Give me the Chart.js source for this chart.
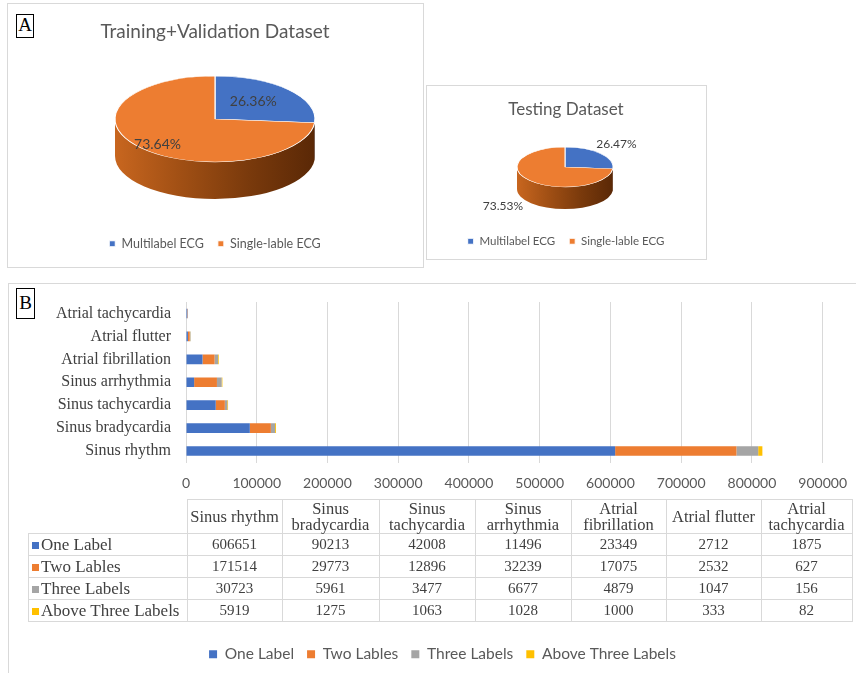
<!DOCTYPE html>
<html>
<head>
<meta charset="utf-8">
<script src="https://cdn.jsdelivr.net/npm/chart.js@4.4.1/dist/chart.umd.min.js"></script>
<style>
  body { margin: 0; background: #fff; width: 856px; height: 673px; position: relative; overflow: hidden; font-family: Lato, sans-serif; }
  .frame { position: absolute; border: 1px solid #d9d9d9; box-sizing: border-box; }
  .tag { position: absolute; border: 1.5px solid #000; box-sizing: border-box; font-family: "Liberation Serif", serif; font-size: 19px; line-height: 20px; text-align: center; color: #000; }
  canvas { position: absolute; }
  #dataTable { position: absolute; left: 28px; top: 499px; border-collapse: collapse; font-family: "Liberation Serif", serif; font-size: 15px; color: #404040; }
  #dataTable td, #dataTable th { border: 1.5px solid #d9d9d9; text-align: center; font-weight: normal; padding: 0; }
  #dataTable th { height: 33px; line-height: 16px; font-size: 16.5px; }
  #dataTable td { height: 21px; }
  #dataTable th.blank { border: none; }
  #dataTable td.lab { text-align: left; padding-left: 3px; white-space: nowrap; font-size: 17px; }
  .sw { display: inline-block; width: 7px; height: 7px; margin-right: 2px; vertical-align: 1px; }
</style>
</head>
<body>
<div class="frame" style="left:7px;top:3px;width:417px;height:265px;"></div>
<div class="frame" style="left:426px;top:85px;width:281px;height:175px;"></div>
<div class="frame" style="left:8px;top:283px;width:860px;height:400px;"></div>
<div class="tag" style="left:16px;top:14px;width:18px;height:24px;">A</div>
<div class="tag" style="left:16px;top:288px;width:19px;height:31px;line-height:28px;">B</div>

<canvas id="trainChart" width="414" height="262" style="left:8px;top:4px;"></canvas>
<canvas id="testChart" width="278" height="172" style="left:427px;top:86px;"></canvas>
<canvas id="barChart" width="851" height="389" style="left:9px;top:284px;"></canvas>
<table id="dataTable"></table>

<script>
// Pie data
const pieLabels = ['Multilabel ECG', 'Single-lable ECG'];
const trainPercent = [26.36, 73.64];
const testPercent = [26.47, 73.53];

// Bar data
const rhythms = ['Sinus rhythm', 'Sinus bradycardia', 'Sinus tachycardia', 'Sinus arrhythmia', 'Atrial fibrillation', 'Atrial flutter', 'Atrial tachycardia'];
const seriesNames = ['One Label', 'Two Lables', 'Three Labels', 'Above Three Labels'];
const oneLabel = [606651, 90213, 42008, 11496, 23349, 2712, 1875];
const twoLabels = [171514, 29773, 12896, 32239, 17075, 2532, 627];
const threeLabels = [30723, 5961, 3477, 6677, 4879, 1047, 156];
const aboveThree = [5919, 1275, 1063, 1028, 1000, 333, 82];
const xTicks = [0, 100000, 200000, 300000, 400000, 500000, 600000, 700000, 800000, 900000];

const blue = '#4472C4', orange = '#ED7D31', grey = '#A5A5A5', gold = '#FFC000';

// 3D pie: squash the top face into an ellipse and draw the side wall
const pie3d = {
    id: 'pie3d',
    beforeDatasetsDraw(chart, args, o) {
        const ctx = chart.ctx;
        const meta = chart.getDatasetMeta(0);
        const a0 = meta.data[0];
        const r = a0.outerRadius;
        meta.data.forEach((arc, i) => {
            const s = Math.max(arc.startAngle, 0), e = Math.min(arc.endAngle, Math.PI);
            if (e <= s) return;
            const g = ctx.createLinearGradient(o.cx - o.rx, 0, o.cx + o.rx, 0);
            o.side[i].forEach((c, k) => g.addColorStop(k / (o.side[i].length - 1), c));
            ctx.fillStyle = g;
            ctx.beginPath();
            ctx.ellipse(o.cx, o.cy, o.rx, o.ry, 0, s, e);
            ctx.ellipse(o.cx, o.cy + o.depth, o.rx, o.ry, 0, e, s, true);
            ctx.closePath();
            ctx.fill();
        });
        ctx.save();
        ctx.translate(o.cx, o.cy);
        ctx.scale(o.rx / r, o.ry / r);
        ctx.translate(-a0.x, -a0.y);
    },
    afterDatasetsDraw(chart, args, o) {
        const ctx = chart.ctx;
        ctx.restore();
        const meta = chart.getDatasetMeta(0);
        const vals = chart.data.datasets[0].data;
        ctx.save();
        ctx.font = o.labelFont;
        ctx.fillStyle = '#404040';
        ctx.textAlign = 'center';
        ctx.textBaseline = 'middle';
        meta.data.forEach((arc, i) => {
            const m = (arc.startAngle + arc.endAngle) / 2;
            const [fx, fy, dy] = o.labelPos[i];
            const x = o.cx + fx * o.rx * Math.cos(m);
            const y = o.cy + fy * o.ry * Math.sin(m) + dy;
            ctx.fillText(vals[i].toFixed(2) + '%', x, y);
        });
        ctx.restore();
    }
};

// nudge the bar legend sideways (it sits under the table, centred a bit right)
const legendShift = {
    id: 'legendShift',
    afterLayout(chart, args, o) {
        chart.legend.left += o.dx;
        chart.legend.right += o.dx;
    }
};

const orangeSide = ['#c8661f', '#a04f14', '#7a3a0c', '#5a2806'];
const blueSide = ['#3a62a8', '#2a4a82'];

const makePie = (el, title, values, p) => new Chart(document.getElementById(el), {
    type: 'pie',
    data: {
        labels: pieLabels,
        datasets: [{
            data: values,
            backgroundColor: [blue, orange],
            borderColor: '#ffffff',
            borderWidth: 1
        }]
    },
    plugins: [pie3d],
    options: {
        responsive: false,
        animation: false,
        events: [],
        layout: { padding: { bottom: p.padBottom } },
        plugins: {
            title: {
                display: true,
                text: title,
                color: '#595959',
                font: { family: 'Lato', size: p.titleSize, weight: 'normal' },
                padding: { top: p.titleTop, bottom: 6 }
            },
            legend: {
                position: 'bottom',
                labels: {
                    color: '#595959',
                    font: { family: 'Lato', size: p.legendSize },
                    boxWidth: 6,
                    boxHeight: 6,
                    padding: 14
                }
            },
            tooltip: { enabled: false },
            pie3d: {
                cx: p.cx, cy: p.cy, rx: p.rx, ry: p.ry, depth: p.depth,
                side: [blueSide, orangeSide],
                labelPos: p.labelPos,
                labelFont: p.labelFont
            }
        }
    }
});

makePie('trainChart', 'Training+Validation Dataset', trainPercent, {
    cx: 207, cy: 115, rx: 100, ry: 43, depth: 37,
    titleSize: 19, titleTop: 16, legendSize: 12.5, padBottom: 6,
    labelPos: [[0.52, 0.6, 0], [0.78, 0.9, -1]],
    labelFont: '14px Lato'
});

makePie('testChart', 'Testing Dataset', testPercent, {
    cx: 138, cy: 81, rx: 48, ry: 20, depth: 22,
    titleSize: 17, titleTop: 13, legendSize: 11.5, padBottom: 1,
    labelPos: [[1.45, 1.5, -3], [1.75, 1.4, 20]],
    labelFont: '12px Lato'
});

// Stacked horizontal bars
new Chart(document.getElementById('barChart'), {
    type: 'bar',
    data: {
        labels: rhythms,
        datasets: [
            { label: seriesNames[0], data: oneLabel, backgroundColor: blue },
            { label: seriesNames[1], data: twoLabels, backgroundColor: orange },
            { label: seriesNames[2], data: threeLabels, backgroundColor: grey },
            { label: seriesNames[3], data: aboveThree, backgroundColor: gold }
        ]
    },
    plugins: [legendShift],
    options: {
        indexAxis: 'y',
        responsive: false,
        animation: false,
        events: [],
        barPercentage: 0.42,
        categoryPercentage: 1,
        layout: { padding: { top: 18, right: 32, bottom: 1 } },
        scales: {
            x: {
                stacked: true,
                min: 0,
                max: 900000,
                afterBuildTicks: (s) => { s.ticks = xTicks.map(v => ({ value: v })); },
                afterFit: (s) => { s.height = 171; },
                grid: { color: '#d9d9d9', drawTicks: false },
                border: { display: false },
                ticks: {
                    color: '#595959',
                    font: { family: 'Lato', size: 14 },
                    padding: 13,
                    maxRotation: 0,
                    callback: (v) => String(v)
                }
            },
            y: {
                stacked: true,
                reverse: true,
                afterFit: (s) => { s.width = 177; },
                grid: { display: false, drawTicks: true, tickLength: 9 },
                border: { display: false },
                ticks: {
                    color: '#404040',
                    font: { family: 'Liberation Serif', size: 16 },
                    padding: 6,
                    autoSkip: false
                }
            }
        },
        plugins: {
            legendShift: { dx: 24 },
            legend: {
                position: 'bottom',
                labels: {
                    color: '#595959',
                    font: { family: 'Lato', size: 15.5 },
                    boxWidth: 8,
                    boxHeight: 8,
                    padding: 13
                }
            },
            tooltip: { enabled: false }
        }
    }
});

// Data table under the bars
const table = document.getElementById('dataTable');
const colW = [158, 94, 96, 95, 95, 94, 94, 90];
let head = '<tr><th class="blank" style="width:' + colW[0] + 'px"></th>';
rhythms.forEach((r, i) => {
    const words = r.split(' ');
    const txt = r === 'Sinus rhythm' || r === 'Atrial flutter' ? r : words[0] + '<br>' + words.slice(1).join(' ');
    head += '<th style="width:' + colW[i + 1] + 'px">' + txt + '</th>';
});
head += '</tr>';
const rows = [oneLabel, twoLabels, threeLabels, aboveThree];
const swatch = [blue, orange, grey, gold];
let body = '';
rows.forEach((vals, k) => {
    body += '<tr><td class="lab"><span class="sw" style="background:' + swatch[k] + '"></span>' + seriesNames[k] + '</td>';
    vals.forEach(v => { body += '<td>' + v + '</td>'; });
    body += '</tr>';
});
table.innerHTML = head + body;
</script>
</body>
</html>
